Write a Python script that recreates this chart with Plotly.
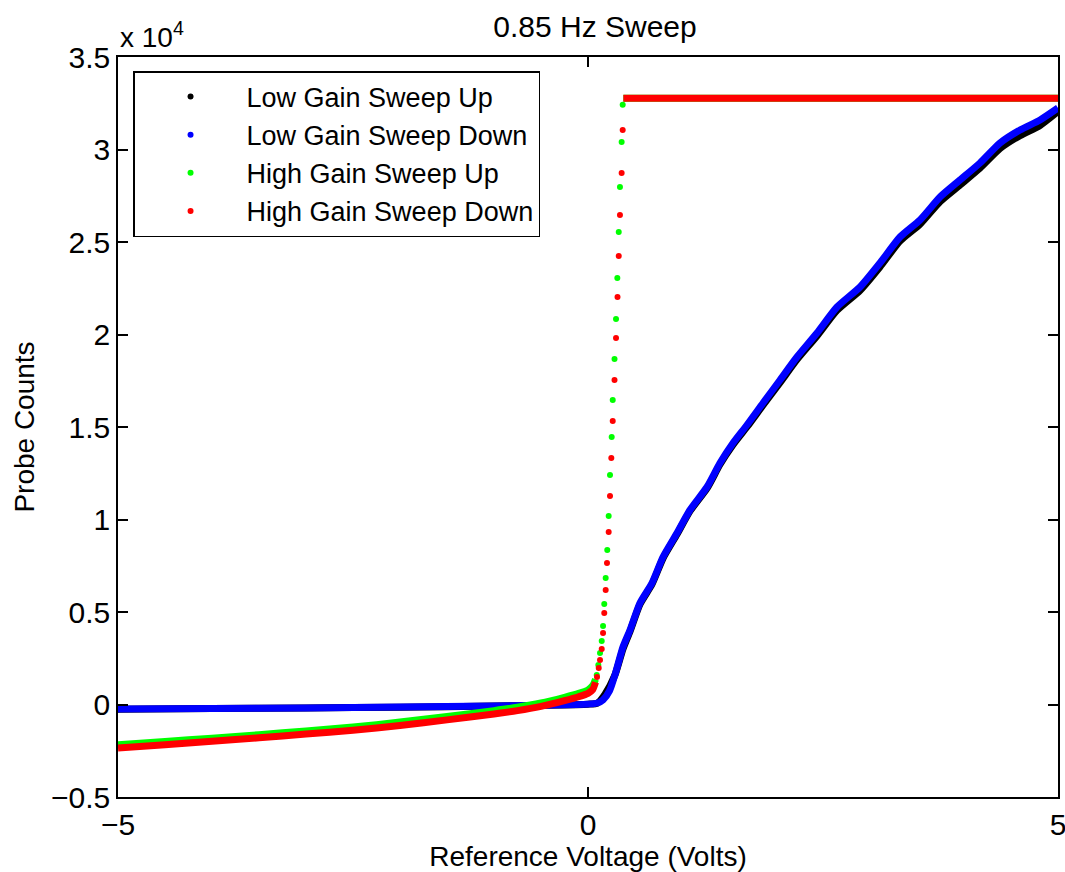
import plotly.graph_objects as go

# ---------------- data ----------------
# Low gain sweep down (blue): dense curve
lgd_x = [-5.0, -4.0, -3.0, -2.0, -1.0, -0.5, 0.0, 0.1, 0.16, 0.23, 0.29, 0.372, 0.447, 0.553,
         0.681, 0.798, 0.947, 1.085, 1.266, 1.404, 1.543, 1.691, 1.862, 2.043, 2.223, 2.436,
         2.649, 2.894, 3.106, 3.319, 3.532, 3.745, 3.957, 4.170, 4.383, 4.596, 4.809, 5.0]
lgd_y = [-243, -215, -185, -140, -80, -40, 20, 80, 250, 750, 1650, 3108, 4027, 5486,
         6568, 7973, 9270, 10514, 11757, 13054, 14135, 15108, 16297, 17541, 18784, 20081,
         21486, 22568, 23865, 25270, 26189, 27432, 28351, 29270, 30351, 31054, 31595, 32243]

# Low gain sweep up (black): dense curve, mostly hidden under blue
lgu_x = [-5.0, -4.0, -3.0, -2.0, -1.0, -0.5, 0.0, 0.1, 0.181, 0.287, 0.372, 0.447, 0.553,
         0.681, 0.798, 0.947, 1.085, 1.266, 1.404, 1.543, 1.691, 1.862, 2.043, 2.223, 2.436,
         2.649, 2.894, 3.106, 3.319, 3.532, 3.745, 3.957, 4.170, 4.383, 4.596, 4.809, 5.0]
lgu_y = [-250, -220, -190, -145, -85, -45, 15, 75, 560, 1600, 3000, 3950, 5420,
         6500, 7900, 9200, 10450, 11680, 12970, 14040, 15000, 16180, 17400, 18640, 19920,
         21300, 22380, 23650, 25050, 25960, 27180, 28080, 28990, 30050, 30750, 31300, 32050]

# High gain sweep down (red)
hgd_low_x = [-5.0, -4.5, -4.0, -3.5, -3.0, -2.5, -2.0, -1.5, -1.0, -0.75, -0.5, -0.25, -0.1, 0.0, 0.05, 0.08]
hgd_low_y = [-2350, -2170, -1990, -1800, -1600, -1395, -1130, -830, -510, -330, -100, 210, 420, 600, 800, 1200]
hgd_dot_x = [0.096, 0.114, 0.128, 0.146, 0.160, 0.173, 0.188, 0.202, 0.220, 0.234, 0.248,
             0.263, 0.282, 0.298, 0.314, 0.327, 0.340, 0.358, 0.369]
hgd_dot_y = [1486, 1973, 2405, 3000, 3865, 4946, 6189, 7649, 9324, 11270, 13324,
             15324, 17541, 19811, 22027, 24243, 26459, 28730, 31054]
hgd_sat_x = [0.376, 1.0, 2.0, 3.0, 4.0, 5.0]
hgd_sat_y = [32767, 32767, 32767, 32767, 32767, 32767]

# High gain sweep up (green)
hgu_low_x = [-5.0, -4.5, -4.0, -3.5, -3.0, -2.5, -2.0, -1.5, -1.0, -0.75, -0.5, -0.25, -0.1, 0.0, 0.05, 0.08]
hgu_low_y = [-2180, -2000, -1820, -1630, -1430, -1220, -950, -650, -330, -150, 80, 390, 600, 790, 1020, 1370]
hgu_dot_x = [0.093, 0.110, 0.128, 0.146, 0.160, 0.173, 0.188, 0.205, 0.220, 0.234, 0.252,
             0.263, 0.282, 0.298, 0.312, 0.327, 0.340, 0.358, 0.369]
hgu_dot_y = [1595, 2135, 2784, 3432, 4243, 5432, 6838, 8351, 10189, 12405, 14459,
             16459, 18676, 20838, 23054, 25541, 27973, 30405, 32422]
hgu_sat_x = [0.376, 1.0, 2.0, 3.0, 4.0, 5.0]
hgu_sat_y = [32767, 32767, 32767, 32767, 32767, 32767]

series_names = ["Low Gain Sweep Up", "Low Gain Sweep Down", "High Gain Sweep Up", "High Gain Sweep Down"]
series_colors = ["#000000", "#0000ff", "#00ff00", "#ff0000"]

x_ticks = [-5, 0, 5]
x_tick_text = ["\u22125", "0", "5"]
y_ticks = [-5000, 0, 5000, 10000, 15000, 20000, 25000, 30000, 35000]
y_tick_text = ["\u22120.5", "0", "0.5", "1", "1.5", "2", "2.5", "3", "3.5"]

# ---------------- figure ----------------
FONT = "Liberation Sans, Arial, Helvetica, sans-serif"
FS_TICK = 30
FS_TITLE = 30
FS_LAB = 28
FS_LEG = 27
LW = 7
MS = 6

fig = go.Figure()

def dense(x, y, color):
    fig.add_trace(go.Scatter(x=x, y=y, mode="lines", showlegend=False, hoverinfo="skip",
                             line=dict(color=color, width=LW, shape="spline", smoothing=0.6)))

def dots(x, y, color, name, show):
    fig.add_trace(go.Scatter(x=x, y=y, mode="markers", name=name, showlegend=show,
                             marker=dict(color=color, size=MS, line=dict(width=0))))

# Low gain up (black)
dense(lgu_x, lgu_y, series_colors[0])
dots([lgu_x[0]], [lgu_y[0]], series_colors[0], series_names[0], True)
# Low gain down (blue)
dense(lgd_x, lgd_y, series_colors[1])
dots([lgd_x[0]], [lgd_y[0]], series_colors[1], series_names[1], True)
# High gain up (green)
dense(hgu_low_x, hgu_low_y, series_colors[2])
dense(hgu_sat_x, hgu_sat_y, series_colors[2])
dots(hgu_dot_x, hgu_dot_y, series_colors[2], series_names[2], True)
# High gain down (red)
dense(hgd_low_x, hgd_low_y, series_colors[3])
dense(hgd_sat_x, hgd_sat_y, series_colors[3])
dots(hgd_dot_x, hgd_dot_y, series_colors[3], series_names[3], True)

axis_common = dict(showline=True, linecolor="black", linewidth=1.5, mirror="ticks",
                   ticks="inside", ticklen=10, tickwidth=1.5, tickcolor="black",
                   showgrid=False, zeroline=False, automargin=False,
                   ticklabeloverflow="allow",
                   tickfont=dict(family=FONT, size=FS_TICK, color="black"))

fig.update_layout(
    width=1065, height=872,
    margin=dict(l=118, r=7, t=57, b=75),
    paper_bgcolor="white", plot_bgcolor="white",
    font=dict(family=FONT, size=FS_LAB, color="black"),
    title=dict(text="0.85 Hz Sweep", x=595 / 1065, xanchor="center", xref="container",
               y=1 - 26 / 872, yanchor="middle", yref="container",
               font=dict(family=FONT, size=FS_TITLE)),
    xaxis=dict(range=[-5, 5], tickvals=x_ticks, ticktext=x_tick_text,
               title=dict(text="Reference Voltage (Volts)", standoff=10,
                          font=dict(family=FONT, size=FS_LAB)),
               **axis_common),
    yaxis=dict(range=[-5000, 35000], tickvals=y_ticks, ticktext=y_tick_text,
               title=dict(text="Probe Counts", standoff=8,
                          font=dict(family=FONT, size=FS_LAB)),
               **axis_common),
    legend=dict(x=0.016, y=0.981, xanchor="left", yanchor="top",
                bgcolor="white", bordercolor="black", borderwidth=1.5,
                font=dict(family=FONT, size=FS_LEG), itemwidth=102, tracegroupgap=0),
    annotations=[dict(text="x 10<sup>4</sup>", xref="paper", yref="paper", x=0, y=1,
                      xanchor="left", yanchor="bottom", yshift=2, showarrow=False,
                      font=dict(family=FONT, size=FS_LAB))],
)

fig.write_html("out.html")
